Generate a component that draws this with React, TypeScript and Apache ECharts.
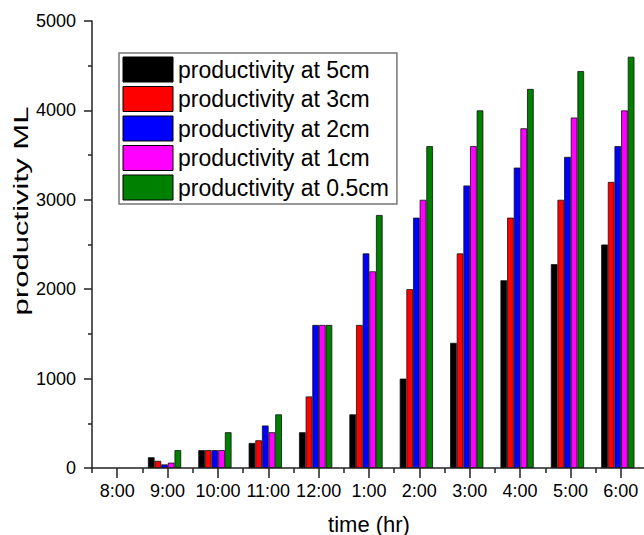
import React, { useEffect, useRef } from "react";
import * as echarts from "echarts";

const categories = ["8:00", "9:00", "10:00", "11:00", "12:00", "1:00", "2:00", "3:00", "4:00", "5:00", "6:00"];
const seriesNames = [
  "productivity at 5cm",
  "productivity at 3cm",
  "productivity at 2cm",
  "productivity at 1cm",
  "productivity at 0.5cm",
];
const at5cm = [0, 120, 200, 280, 400, 600, 1000, 1400, 2100, 2280, 2500];
const at3cm = [0, 80, 200, 310, 800, 1600, 2000, 2400, 2800, 3000, 3200];
const at2cm = [0, 40, 200, 475, 1600, 2400, 2800, 3160, 3360, 3480, 3600];
const at1cm = [0, 60, 200, 400, 1600, 2200, 3000, 3600, 3800, 3920, 4000];
const at05cm = [0, 200, 400, 600, 1600, 2830, 3600, 4000, 4240, 4440, 4600];
const colors = ["#000000", "#ff0000", "#0000ff", "#ff00ff", "#008000"];
const yTitle = "productivity ML";
const xTitle = "time (hr)";

const FONT = "Liberation Sans, Arial, sans-serif";

export default function App() {
  const ref = useRef<HTMLDivElement>(null);
  useEffect(() => {
    if (!ref.current) return;
    const chart = echarts.init(ref.current, undefined, { renderer: "svg" });
    const values = [at5cm, at3cm, at2cm, at1cm, at05cm];
    const axisColor = "#222";
    chart.setOption({
      animation: false,
      backgroundColor: "#fff",
      textStyle: { fontFamily: FONT },
      grid: [
        { left: 92, right: -2, top: 21, bottom: 67, containLabel: false, outerBoundsMode: "none" },
        { left: 89, right: 1, top: 21, bottom: 67, containLabel: false, outerBoundsMode: "none" },
      ],
      xAxis: [
        {
          type: "category",
          gridIndex: 0,
          data: categories,
          boundaryGap: true,
          axisLine: { show: true, lineStyle: { color: axisColor, width: 1.5 } },
          axisTick: { show: true, alignWithLabel: true, length: 10, lineStyle: { color: axisColor, width: 1.5 } },
          axisLabel: { show: true, margin: 14, fontSize: 18, color: "#000", fontFamily: FONT, interval: 0 },
          name: xTitle,
          nameLocation: "middle",
          nameGap: 45,
          nameTextStyle: { fontSize: 22, lineHeight: 22, color: "#000", fontFamily: FONT },
          splitLine: { show: false },
        },
        {
          type: "category",
          gridIndex: 0,
          data: categories,
          position: "bottom",
          boundaryGap: true,
          axisLine: { show: false },
          axisTick: { show: true, interval: 0, length: 5, lineStyle: { color: axisColor, width: 1.5 } },
          axisLabel: { show: false },
          splitLine: { show: false },
        },
        {
          type: "category",
          gridIndex: 1,
          data: categories,
          show: false,
        },
      ],
      yAxis: [
        {
          type: "value",
          gridIndex: 0,
          min: 0,
          max: 5000,
          interval: 1000,
          axisLine: { show: true, lineStyle: { color: axisColor, width: 1.5 } },
          axisTick: { show: true, length: 8, lineStyle: { color: axisColor, width: 1.5 } },
          minorTick: { show: true, splitNumber: 2, length: 4, lineStyle: { color: axisColor, width: 1.5 } },
          axisLabel: {
            margin: 16,
            fontSize: 18,
            color: "#000",
            fontFamily: FONT,
            formatter: (v: number) => String(v),
          },
          splitLine: { show: false },
          minorSplitLine: { show: false },
        },
        {
          type: "value",
          gridIndex: 1,
          min: 0,
          max: 5000,
          interval: 1000,
          show: false,
          splitLine: { show: false },
        },
      ],
      legend: {
        show: true,
        orient: "vertical",
        left: 119,
        top: 53,
        data: seriesNames,
        itemWidth: 50,
        itemHeight: 25,
        itemGap: 3.5,
        padding: [3.5, 8, 3.5, 3.5],
        borderColor: "#777",
        borderWidth: 1.5,
        icon: "rect",
        itemStyle: { borderColor: "#000", borderWidth: 1 },
        textStyle: { fontSize: 23, color: "#000", fontFamily: FONT, lineHeight: 25 },
      },
      graphic: [
        {
          type: "text",
          x: 21,
          y: 211,
          rotation: Math.PI / 2,
          scaleX: 1.48,
          style: {
            text: yTitle,
            fontSize: 21,
            fontFamily: FONT,
            fill: "#000",
            align: "center",
            verticalAlign: "middle",
          },
        },
      ],
      series: seriesNames.map((name, i) => ({
        name,
        type: "bar",
        xAxisIndex: 2,
        yAxisIndex: 1,
        data: values[i].map((v) => (v === 0 ? null : v)),
        barGap: "0%",
        barCategoryGap: "34%",
        itemStyle: { color: colors[i], borderColor: "#111", borderWidth: 0.8 },
      })),
    });
    return () => chart.dispose();
  }, []);
  return (
    <div
      ref={ref}
      style={{ position: "fixed", left: 0, top: 0, width: 644, height: 535, background: "#fff" }}
    />
  );
}
